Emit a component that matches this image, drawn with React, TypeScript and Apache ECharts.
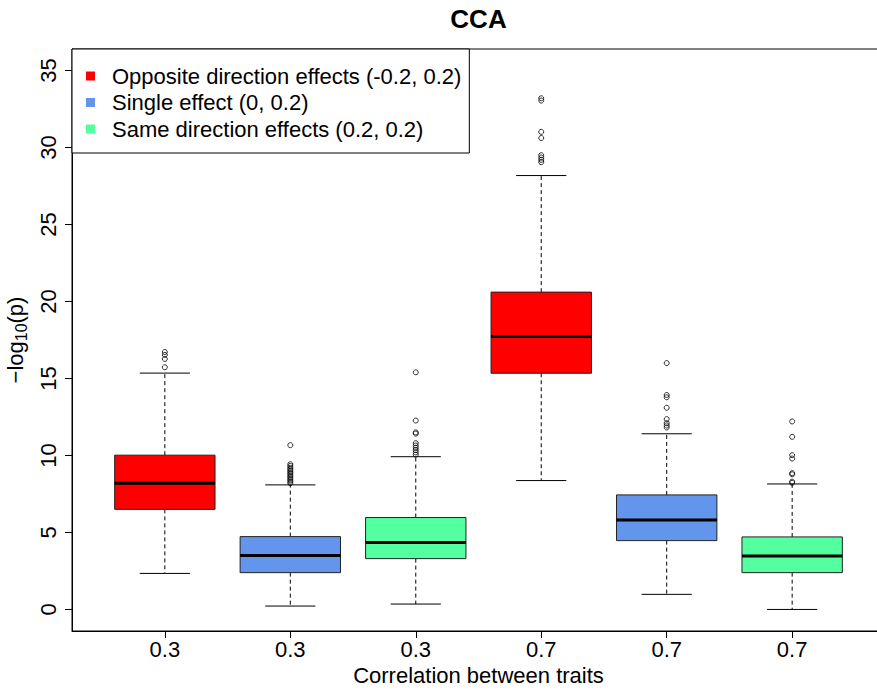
import React, { useEffect, useRef } from "react";
import * as echarts from "echarts";

const FONT = "'Liberation Sans', Arial, Helvetica, sans-serif";

const categories = ["0.3", "0.3", "0.3", "0.7", "0.7", "0.7"];
const groupNames = [
  "Opposite direction effects (-0.2, 0.2)",
  "Single effect (0, 0.2)",
  "Same direction effects (0.2, 0.2)",
];
const groupColors = ["#FF0000", "#6495ED", "#54FF9F"];
// group index of each box
const boxGroup = [0, 1, 2, 0, 1, 2];

const lowerWhisker = [2.34, 0.22, 0.35, 8.37, 0.98, 0.0];
const q1 = [6.5, 2.39, 3.3, 15.34, 4.47, 2.39];
const median = [8.2, 3.51, 4.35, 17.73, 5.81, 3.47];
const q3 = [10.02, 4.73, 5.97, 20.61, 7.44, 4.71];
const upperWhisker = [15.35, 8.09, 9.92, 28.18, 11.41, 8.15];

const outliers = [
  [16.72, 16.53, 16.27, 15.73],
  [10.67, 9.43, 9.32, 9.2, 9.1, 9.0, 8.9, 8.8, 8.7, 8.6, 8.5, 8.4, 8.3, 8.2],
  [15.4, 12.27, 11.5, 11.42, 10.8, 10.65, 10.5, 10.35, 10.2, 10.05],
  [33.2, 33.05, 31.02, 30.62, 29.5, 29.35, 29.2, 29.05],
  [16.0, 13.93, 13.78, 13.1, 12.36, 12.1, 11.95, 11.82],
  [12.21, 11.21, 10.02, 9.8, 8.85, 8.78, 8.3, 8.22],
];

const yTicks = [0, 5, 10, 15, 20, 25, 30, 35];

export default function App() {
  const ref = useRef<HTMLDivElement>(null);

  useEffect(() => {
    if (!ref.current) return;
    const chart = echarts.init(ref.current, null, { renderer: "svg" });

    const boxSeries = groupNames.map((name, g) => ({
      type: "custom",
      name,
      itemStyle: { color: groupColors[g] },
      encode: { x: 0, y: [1, 2, 3, 4, 5] },
      data: categories
        .map((_, i) => i)
        .filter((i) => boxGroup[i] === g)
        .map((i) => [i + 1, lowerWhisker[i], q1[i], median[i], q3[i], upperWhisker[i]]),
      renderItem: (params: any, api: any) => {
        const x = api.value(0);
        const lw = api.value(1);
        const a = api.value(2);
        const m = api.value(3);
        const b = api.value(4);
        const uw = api.value(5);
        const halfBox = 0.4;
        const halfCap = 0.2;
        const pLT = api.coord([x - halfBox, b]);
        const pRB = api.coord([x + halfBox, a]);
        const pMidL = api.coord([x - halfBox, m]);
        const pMidR = api.coord([x + halfBox, m]);
        const pUW = api.coord([x, uw]);
        const pLW = api.coord([x, lw]);
        const pQ3 = api.coord([x, b]);
        const pQ1 = api.coord([x, a]);
        const capL = api.coord([x - halfCap, 0])[0];
        const capR = api.coord([x + halfCap, 0])[0];
        const dash = { stroke: "#000", lineWidth: 1, lineDash: [4, 3] };
        const solid = { stroke: "#000", lineWidth: 1 };
        return {
          type: "group",
          children: [
            { type: "line", shape: { x1: pQ3[0], y1: pQ3[1], x2: pUW[0], y2: pUW[1] }, style: dash },
            { type: "line", shape: { x1: pQ1[0], y1: pQ1[1], x2: pLW[0], y2: pLW[1] }, style: dash },
            { type: "line", shape: { x1: capL, y1: pUW[1], x2: capR, y2: pUW[1] }, style: solid },
            { type: "line", shape: { x1: capL, y1: pLW[1], x2: capR, y2: pLW[1] }, style: solid },
            {
              type: "rect",
              shape: { x: pLT[0], y: pLT[1], width: pRB[0] - pLT[0], height: pRB[1] - pLT[1] },
              style: { fill: groupColors[boxGroup[x - 1]], stroke: "#222", lineWidth: 1 },
            },
            {
              type: "line",
              shape: { x1: pMidL[0], y1: pMidL[1], x2: pMidR[0], y2: pMidR[1] },
              style: { stroke: "#000", lineWidth: 3 },
            },
          ],
        };
      },
    }));

    const outlierData: number[][] = [];
    outliers.forEach((arr, i) => arr.forEach((v) => outlierData.push([i + 1, v])));

    chart.setOption({
      animation: false,
      backgroundColor: "#fff",
      textStyle: { fontFamily: FONT },
      title: {
        text: "CCA",
        left: 478.5,
        textAlign: "center",
        top: 6,
        padding: 0,
        textStyle: { fontSize: 26, fontWeight: "bold", color: "#000", fontFamily: FONT },
      },
      legend: {
        orient: "vertical",
        left: 72,
        top: 49,
        data: groupNames.map((name, g) => ({ name, icon: "rect", itemStyle: { color: groupColors[g] } })),
        itemWidth: 9,
        itemHeight: 9,
        itemGap: 4.5,
        padding: [16, 8, 13, 14],
        borderColor: "#000",
        borderWidth: 1,
        backgroundColor: "#fff",
        selectedMode: false,
        textStyle: { fontSize: 22, color: "#000", fontFamily: FONT, lineHeight: 22, padding: [0, 0, 0, 12] },
      },
      grid: {
        left: 72,
        right: -8,
        top: 49,
        bottom: 60,
        show: true,
        borderColor: "#000",
        borderWidth: 1,
        backgroundColor: "transparent",
        outerBoundsMode: "none",
        containLabel: false,
      },
      xAxis: {
        type: "value",
        min: 0.26,
        max: 6.74,
        name: "Correlation between traits",
        nameLocation: "middle",
        nameGap: 33,
        nameTextStyle: { fontSize: 22, color: "#000", fontFamily: FONT },
        axisLine: { show: true, onZero: false, lineStyle: { color: "#000" } },
        axisTick: { show: true, length: 7, lineStyle: { color: "#000" }, customValues: categories.map((_, i) => i + 1) },
        axisLabel: {
          fontSize: 22,
          color: "#000",
          margin: 7,
          customValues: categories.map((_, i) => i + 1),
          formatter: (v: number) => categories[Math.round(v) - 1] ?? "",
        },
        splitLine: { show: false },
      },
      yAxis: {
        type: "value",
        min: -1.4,
        max: 36.4,
        name: "{a|\u2212log}{s|10}{a|(p)}",
        nameLocation: "middle",
        nameRotate: 90,
        nameGap: 42,
        nameTextStyle: {
          color: "#000",
          fontFamily: FONT,
          rich: {
            a: { fontSize: 22, color: "#000", fontFamily: FONT, lineHeight: 28, verticalAlign: "middle" },
            s: { fontSize: 16, color: "#000", fontFamily: FONT, lineHeight: 16, verticalAlign: "bottom" },
          },
        },
        axisLine: { show: true, onZero: false, lineStyle: { color: "#000" } },
        axisTick: { show: true, length: 7, lineStyle: { color: "#000" }, customValues: yTicks },
        axisLabel: { fontSize: 22, color: "#000", rotate: 90, margin: 13, customValues: yTicks },
        splitLine: { show: false },
      },
      series: [
        ...boxSeries,
        {
          type: "scatter",
          name: "outliers",
          data: outlierData,
          symbol: "circle",
          symbolSize: 5,
          itemStyle: { color: "transparent", borderColor: "#000", borderWidth: 1 },
          z: 5,
        },
      ],
    });

    return () => chart.dispose();
  }, []);

  return (
    <div
      ref={ref}
      style={{ position: "absolute", left: 0, top: 0, width: 877, height: 691 }}
    />
  );
}
